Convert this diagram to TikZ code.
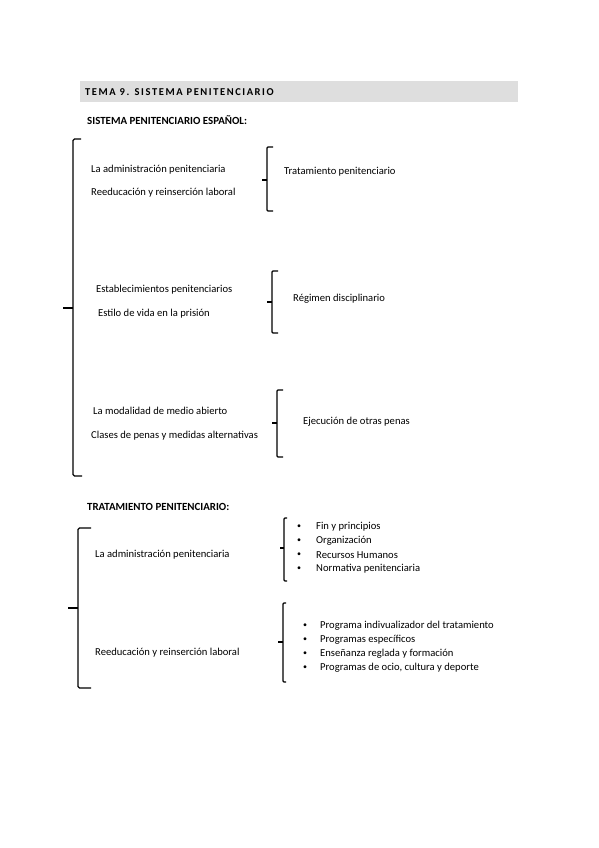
\documentclass[tikz,border=0pt]{standalone}
\usepackage{fontspec}
\setmainfont{Carlito}
\newfontfamily\titlefont[LetterSpace=15]{Carlito}
\newfontfamily\headfont{Carlito}
\begin{document}
\begin{tikzpicture}[x=1pt,y=-1pt,
  txt/.style={anchor=west,inner sep=0pt,yshift=-1.5pt,font=\fontsize{10.6}{12}\selectfont},
  head/.style={anchor=west,inner sep=0pt,yshift=-1pt,font=\headfont\bfseries\fontsize{10.9}{12}\selectfont},
  bul/.style={anchor=center,inner sep=0pt,yshift=-1.5pt,font=\fontsize{8}{10}\selectfont},
  bigbr/.style={line width=1.4pt,rounded corners=1.5pt},
  smallbr/.style={line width=1.1pt,rounded corners=1pt}]
\useasboundingbox (0,0) rectangle (599,848);
% title bar
\fill[black!13] (80,81) rectangle (518,102);
\node[anchor=west,inner sep=0pt,yshift=-0.5pt,font=\titlefont\bfseries\fontsize{10.5}{12}\selectfont] (title) at (85,91.5) {TEMA 9. SISTEMA PENITENCIARIO};
\node[head] (h1) at (87,119) {SISTEMA PENITENCIARIO ESPAÑOL:};
% big bracket 1
\draw[bigbr] (81,139) -- (73,139) -- (73,476) -- (82,476);
\draw[bigbr] (73,308) -- (63,308);
% group 1
\node[txt] (a1) at (91,168) {La administración penitenciaria};
\node[txt] (a2) at (91,191) {Reeducación y reinserción laboral};
\draw[smallbr] (273,147) -- (267,147) -- (267,211) -- (273,211);
\draw[smallbr] (267,180) -- (262,180);
\node[txt] (a3) at (284,170) {Tratamiento penitenciario};
% group 2
\node[txt] (b1) at (96,288) {Establecimientos penitenciarios};
\node[txt] (b2) at (98,312) {Estilo de vida en la prisión};
\draw[smallbr] (278,271) -- (272,271) -- (272,333) -- (278,333);
\draw[smallbr] (272,302) -- (267,302);
\node[txt] (b3) at (293,297) {Régimen disciplinario};
% group 3
\node[txt] (c1) at (93,409) {La modalidad de medio abierto};
\node[txt] (c2) at (91,434) {Clases de penas y medidas alternativas};
\draw[smallbr] (283,390) -- (277,390) -- (277,457) -- (283,457);
\draw[smallbr] (277,423) -- (272,423);
\node[txt] (c3) at (303,420) {Ejecución de otras penas};
% section 2
\node[head] (h2) at (87,506) {TRATAMIENTO PENITENCIARIO:};
\draw[bigbr] (91,528) -- (78,528) -- (78,688) -- (91,688);
\draw[bigbr] (78,608) -- (68,608);
\node[txt] (d1) at (95,553) {La administración penitenciaria};
\node[txt] (d2) at (95,651) {Reeducación y reinserción laboral};
\draw[smallbr] (287,518) -- (284,518) -- (284,581) -- (287,581);
\draw[smallbr] (284,548) -- (280,548);
\foreach \t/\yy [count=\i] in {Fin y principios/525,Organización/539,Recursos Humanos/553.5,Normativa penitenciaria/567.5}{
  \node[bul] (pa\i) at (299,\yy) {\textbullet};
  \node[txt] (ta\i) at (316,\yy) {\t};
}
\draw[smallbr] (286,603) -- (283,603) -- (283,682) -- (286,682);
\draw[smallbr] (283,642) -- (278,642);
\foreach \t/\yy [count=\i] in {Programa indivualizador del tratamiento/624,Programas específicos/638,Enseñanza reglada y formación/652,{Programas de ocio, cultura y deporte}/666.5}{
  \node[bul] (pb\i) at (305,\yy) {\textbullet};
  \node[txt] (tb\i) at (320,\yy) {\t};
}
\end{tikzpicture}
\end{document}
